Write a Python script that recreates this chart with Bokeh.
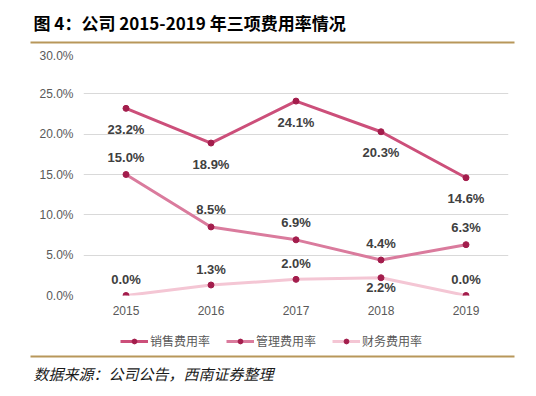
from bokeh.plotting import figure
from bokeh.models import (ColumnDataSource, NumeralTickFormatter, BoxAnnotation,
                          Legend, LegendItem, FixedTicker, Range1d)
from bokeh.core.properties import value
from bokeh.embed import file_html
from bokeh.resources import INLINE

years = ["2015", "2016", "2017", "2018", "2019"]
sales = [23.2, 18.9, 24.1, 20.3, 14.6]
admin = [15.0, 8.5, 6.9, 4.4, 6.3]
fin = [0.0, 1.3, 2.0, 2.2, 0.0]
names = ["销售费用率", "管理费用率", "财务费用率"]
y_ticks = [0, 5, 10, 15, 20, 25, 30]
title_text = "图 4：公司 2015-2019 年三项费用率情况"
source_text = "数据来源：公司公告，西南证券整理"

W = 520
gold = "#b8975a"
line_colors = ["#cc4f7a", "#da7b9d", "#f4c6d4"]
marker_color = "#a31d4c"


def blank(h):
    f = figure(width=W, height=h, x_range=Range1d(0, W), y_range=Range1d(h, 0),
               output_backend="svg", toolbar_location=None,
               min_border=0, min_border_left=0, min_border_right=0,
               min_border_top=0, min_border_bottom=0)
    f.axis.visible = False
    f.grid.visible = False
    f.outline_line_color = None
    return f


# header
hd = blank(48)
hd.text(x=[33], y=[22], text=[title_text], text_font=value("Noto Sans CJK SC"),
        text_font_style="bold", text_font_size="17px", text_color="#000000",
        text_baseline="middle", text_align="left")
hd.add_layout(BoxAnnotation(left=30, right=514, top=41, bottom=43,
                            fill_color=gold, fill_alpha=1, line_color=None))

# main chart
p = figure(width=W, height=280, x_range=years, y_range=Range1d(0, 0.30),
           output_backend="svg", toolbar_location=None,
           min_border_left=83, min_border_right=12,
           min_border_top=5, min_border_bottom=33)
p.outline_line_color = None
p.xgrid.grid_line_color = None
p.ygrid.grid_line_color = "#d9d9d9"
p.ygrid.grid_line_width = 1

p.yaxis.ticker = FixedTicker(ticks=[t / 100 for t in y_ticks])
p.yaxis.formatter = NumeralTickFormatter(format="0.0%")
for ax in (p.xaxis, p.yaxis):
    ax.axis_line_color = None
    ax.major_tick_line_color = None
    ax.minor_tick_line_color = None
    ax.major_tick_out = 0
    ax.major_tick_in = 0
    ax.minor_tick_out = 0
    ax.major_label_text_font = "Liberation Sans"
    ax.major_label_text_font_size = "12px"
    ax.major_label_text_color = "#595959"
p.yaxis.major_label_standoff = 10
p.xaxis.major_label_standoff = 10

series = [sales, admin, fin]
offsets = [[21, 21, 21, 21, 21], [-17, -17, -17, -17, -17], [-16, -16, -16, 10, -16]]

for name, vals, col, offs in zip(names, series, line_colors, offsets):
    src = ColumnDataSource(dict(x=years, y=[v / 100 for v in vals],
                                t=["%.1f%%" % v for v in vals], off=offs))
    p.line("x", "y", source=src, line_color=col, line_width=3)
    p.scatter("x", "y", source=src, size=6, fill_color=marker_color,
              line_color=marker_color)
    p.text("x", "y", text="t", source=src, y_offset="off", text_align="center",
           text_baseline="middle", text_font=value("Liberation Sans"),
           text_font_style="bold", text_font_size="13px", text_color="#404040")

# legend strip (its own glyphs lie outside its visible range)
lg = blank(24)
items = []
for name, col in zip(names, line_colors):
    off = ColumnDataSource(dict(x=[-50, -40], y=[-50, -50]))
    r1 = lg.line("x", "y", source=off, line_color=col, line_width=3)
    r2 = lg.scatter("x", "y", source=off, size=6, fill_color=marker_color,
                    line_color=marker_color)
    items.append(LegendItem(label=name, renderers=[r1, r2], index=0))
legend = Legend(items=items, orientation="horizontal", location=(120, 3),
                label_text_font="Noto Sans CJK SC", label_text_font_size="12px",
                label_text_color="#595959", glyph_width=28, glyph_height=12,
                label_standoff=2, spacing=16, padding=0, margin=0,
                border_line_color=None, background_fill_alpha=0)
lg.add_layout(legend, "center")

# footer
ft = blank(40)
ft.add_layout(BoxAnnotation(left=30, right=514, top=3, bottom=5,
                            fill_color=gold, fill_alpha=1, line_color=None))
ft.text(x=[33], y=[21], text=[source_text], text_font=value("Noto Sans CJK SC"),
        text_font_style="italic", text_font_size="15px", text_color="#1a1a1a",
        text_baseline="middle", text_align="left")

open("out.html", "w").write(file_html([hd, p, lg, ft], INLINE))
